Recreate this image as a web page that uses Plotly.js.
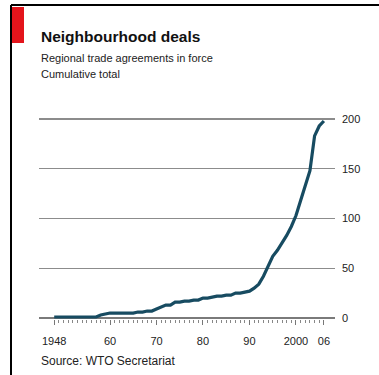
<!DOCTYPE html>
<html>
<head>
<meta charset="utf-8">
<script src="https://cdn.plot.ly/plotly-3.0.1.min.js"></script>
<style>html,body{margin:0;padding:0;background:#fff;}#chart{width:379px;height:375px;}</style>
</head>
<body>
<div id="chart"></div>
<script>
// Cumulative regional trade agreements in force
const years = [1948,1949,1950,1951,1952,1953,1954,1955,1956,1957,1958,1959,1960,1961,1962,1963,1964,1965,1966,1967,1968,1969,1970,1971,1972,1973,1974,1975,1976,1977,1978,1979,1980,1981,1982,1983,1984,1985,1986,1987,1988,1989,1990,1991,1992,1993,1994,1995,1996,1997,1998,1999,2000,2001,2002,2003,2004,2005,2006];
const totals = [1,1,1,1,1,1,1,1,1,1,3,4,5,5,5,5,5,5,6,6,7,7,9,11,13,13,16,16,17,17,18,18,20,20,21,22,22,23,23,25,25,26,27,30,34,42,53,62,68,75,83,92,103,118,133,148,183,193,198];
const xTickVals = [1948,1960,1970,1980,1990,2000,2006];
const xTickText = ['1948','60','70','80','90','2000','06'];
const yTickVals = [0,50,100,150,200];

const FONT = 'Liberation Sans, Arial, sans-serif';
const L = 39, R = 335, T = 117, B = 319, W = 379, H = 375;
const px = x => (x - L) / (R - L);
const py = y => (B - y) / (B - T);

const trace = {
  x: years, y: totals, type: 'scatter', mode: 'lines',
  line: {color: '#174b61', width: 3.2},
  cliponaxis: false, hoverinfo: 'skip'
};

const layout = {
  width: W, height: H,
  margin: {l: L, r: W - R, t: T, b: H - B, pad: 0},
  paper_bgcolor: '#fff', plot_bgcolor: '#fff',
  showlegend: false,
  font: {family: FONT, color: '#222', size: 11},
  xaxis: {
    range: [1944.73, 2008.39], tickmode: 'array', tickvals: xTickVals, ticktext: xTickText,
    ticks: 'outside', ticklen: 5, tickcolor: '#777', tickwidth: 1, ticklabelstandoff: 7,
    showgrid: false, zeroline: false, showline: false,
    tickfont: {size: 11, color: '#222', family: FONT},
    minor: {tickvals: years, ticks: 'outside', ticklen: 3, tickcolor: '#888', tickwidth: 1, showgrid: false},
    fixedrange: true
  },
  yaxis: {
    range: [-1, 202], side: 'right', tickmode: 'array', tickvals: yTickVals,
    showgrid: true, gridcolor: '#8c8c8c', gridwidth: 1.5,
    zeroline: true, zerolinecolor: '#7a7a7a', zerolinewidth: 1.5,
    showline: false, ticks: '', ticklabelstandoff: 6,
    tickfont: {size: 11, color: '#222', family: FONT},
    fixedrange: true
  },
  shapes: [
    {type: 'line', xref: 'paper', yref: 'paper', x0: px(11), x1: px(379), y0: py(5), y1: py(5), line: {color: '#000', width: 2}},
    {type: 'line', xref: 'paper', yref: 'paper', x0: px(11), x1: px(11), y0: py(5), y1: py(375), line: {color: '#000', width: 2}},
    {type: 'rect', xref: 'paper', yref: 'paper', x0: px(12), x1: px(24), y0: py(43), y1: py(7), fillcolor: '#e3141b', line: {width: 0}}
  ],
  annotations: [
    {xref: 'paper', yref: 'paper', x: px(39), y: py(36), xanchor: 'left', yanchor: 'middle', showarrow: false,
     text: '<b>Neighbourhood deals</b>', font: {family: FONT, size: 15.5, color: '#111'}},
    {xref: 'paper', yref: 'paper', x: px(39), y: py(58), xanchor: 'left', yanchor: 'middle', showarrow: false,
     text: 'Regional trade agreements in force', font: {family: FONT, size: 11, color: '#222'}},
    {xref: 'paper', yref: 'paper', x: px(39), y: py(74), xanchor: 'left', yanchor: 'middle', showarrow: false,
     text: 'Cumulative total', font: {family: FONT, size: 11, color: '#222'}},
    {xref: 'paper', yref: 'paper', x: px(39), y: py(361), xanchor: 'left', yanchor: 'middle', showarrow: false,
     text: 'Source: WTO Secretariat', font: {family: FONT, size: 12, color: '#222'}}
  ]
};

Plotly.newPlot('chart', [trace], layout, {displayModeBar: false, staticPlot: true});
</script>
</body>
</html>
